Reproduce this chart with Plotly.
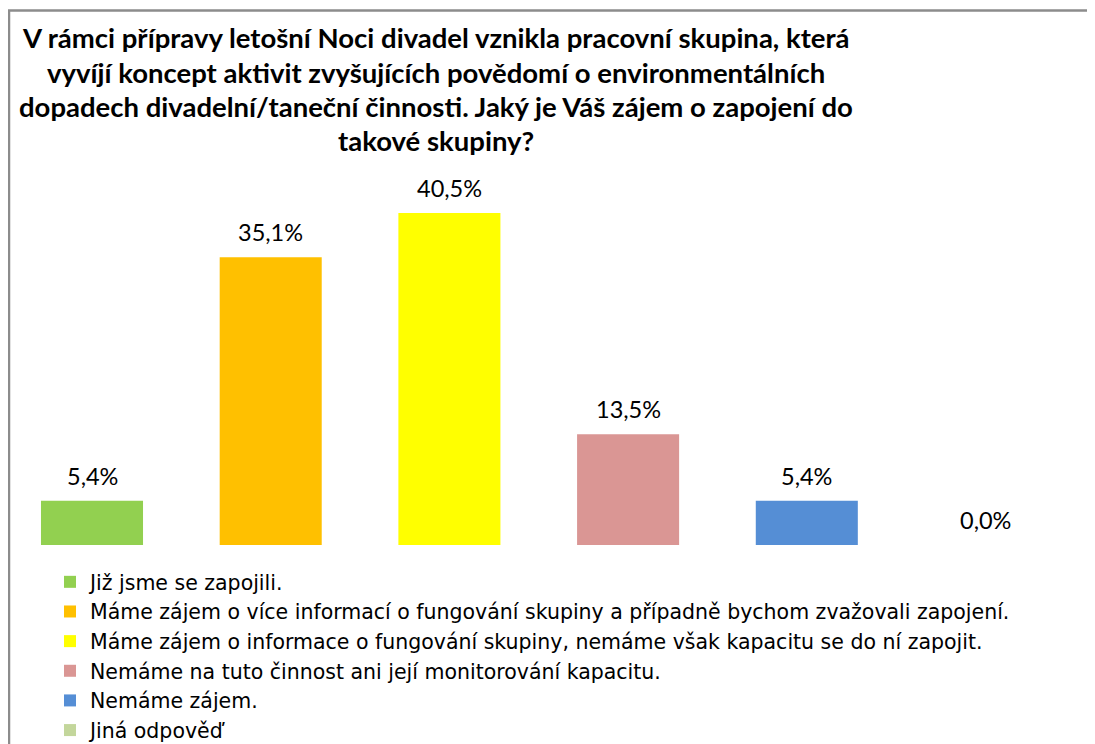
import plotly.graph_objects as go

categories = [
    "Již jsme se zapojili.",
    "Máme zájem o více informací o fungování skupiny a případně bychom zvažovali zapojení.",
    "Máme zájem o informace o fungování skupiny, nemáme však kapacitu se do ní zapojit.",
    "Nemáme na tuto činnost ani její monitorování kapacitu.",
    "Nemáme zájem.",
    "Jiná odpověď",
]
values = [5.4, 35.1, 40.5, 13.5, 5.4, 0.0]
colors = ["#92D050", "#FFC000", "#FFFF00", "#DA9694", "#558ED5", "#C3D69B"]
title_lines = [
    "V rámci přípravy letošní Noci divadel vznikla pracovní skupina, která",
    "vyvíjí koncept aktivit zvyšujících povědomí o environmentálních",
    "dopadech divadelní/taneční činnosti. Jaký je Váš zájem o zapojení do",
    "takové skupiny?",
]

W, H = 1095, 744
FONT = "Lato"
OFF = 8            # page body offset of the figure

# target pixel geometry (screen pixels)
k = 8.2            # px per percentage point
base_px = 545      # baseline pixel row
first_cx = 92      # first bar centre px
step = 178.7       # category spacing px

ymax = (base_px - OFF) / k
ymin = -(H - (base_px - OFF)) / k
xmin = -(first_cx - OFF) / step
xmax = xmin + W / step


def px_x(p):
    return (p - OFF) / W


def px_y(p):
    return 1 - (p - OFF) / H


fig = go.Figure()
for i, (cat, val, col) in enumerate(zip(categories, values, colors)):
    fig.add_trace(go.Bar(
        x=[i], y=[val], name=cat, marker=dict(color=col, line=dict(width=0)),
        hoverinfo="skip",
    ))

annotations = []
for i, val in enumerate(values):
    annotations.append(dict(
        x=i, y=val, xref="x", yref="y",
        text=f"{val:.1f}%".replace(".", ","),
        showarrow=False, yshift=25, yanchor="middle",
        font=dict(family=FONT, size=23.5, color="#000000"),
    ))

title_y = [38, 72, 106, 140]
for line, yy in zip(title_lines, title_y):
    annotations.append(dict(
        x=px_x(436), xref="paper", y=px_y(yy), yref="paper",
        text=f"<b>{line}</b>", showarrow=False, xanchor="center", yanchor="middle",
        font=dict(family=FONT, size=27.5, color="#000000"),
    ))

fig.add_shape(
    type="rect", xref="paper", yref="paper",
    x0=px_x(9), x1=px_x(1090), y0=px_y(900), y1=px_y(10.5),
    line=dict(color="#8C8C8C", width=2.5), fillcolor="rgba(0,0,0,0)", layer="below",
)

fig.update_layout(
    width=W, height=H,
    margin=dict(l=0, r=0, t=0, b=0, pad=0, autoexpand=False),
    paper_bgcolor="white", plot_bgcolor="white",
    barmode="relative", bargap=0.429,
    showlegend=True,
    legend=dict(
        x=px_x(50), y=px_y(562),
        xanchor="left", yanchor="top", orientation="v",
        font=dict(family="DejaVu Sans", size=20.5, color="#000000"),
        itemwidth=30, tracegroupgap=0, bgcolor="rgba(0,0,0,0)",
    ),
    annotations=annotations,
    xaxis=dict(range=[xmin, xmax], showticklabels=False, showgrid=False,
               zeroline=False, showline=False, ticks="", fixedrange=True),
    yaxis=dict(range=[ymin, ymax], showticklabels=False, showgrid=False,
               zeroline=False, showline=False, ticks="", fixedrange=True),
    font=dict(family=FONT),
)

fig.write_html("out.html")
